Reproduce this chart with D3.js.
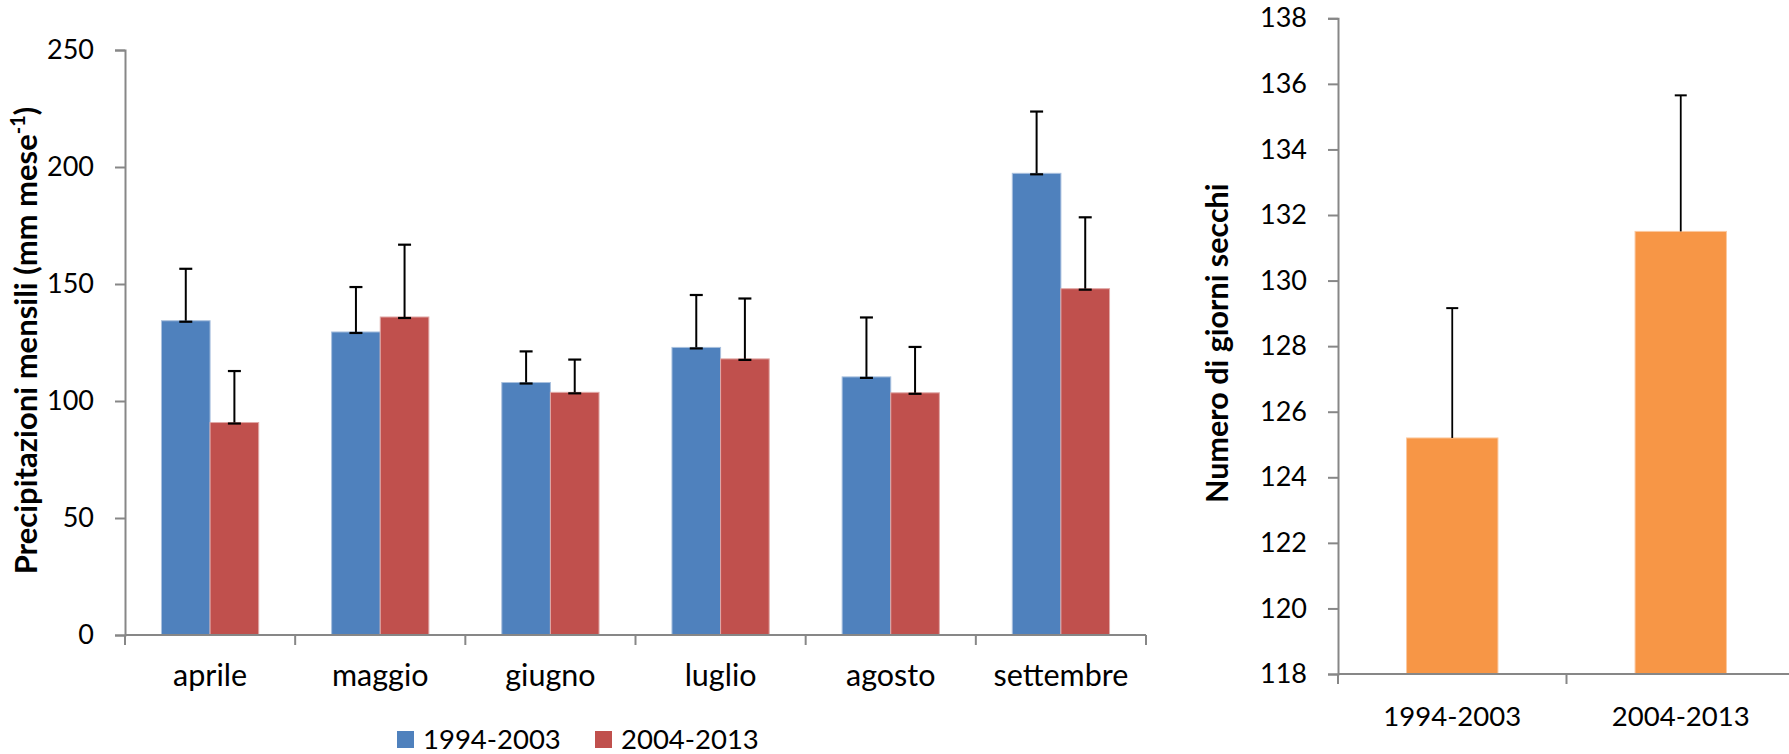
<!DOCTYPE html>
<html>
<head>
<meta charset="utf-8">
<script src="https://cdn.jsdelivr.net/npm/d3@7/dist/d3.min.js"></script>
<style>
  html, body { margin: 0; padding: 0; background: #fff; }
  svg { display: block; }
  text { font-family: "Lato", "Open Sans", sans-serif; fill: #000; }
</style>
</head>
<body>
<svg id="chart" width="1789" height="754"></svg>
<script>
// Monthly precipitation (mm month^-1), mean and standard deviation per period
const months = ["aprile", "maggio", "giugno", "luglio", "agosto", "settembre"];
const periods = ["1994-2003", "2004-2013"];
const rain1994 = [134.3, 129.5, 107.9, 122.9, 110.3, 197.3];
const rainErr1994 = [22.2, 19.2, 13.3, 22.4, 25.4, 26.4];
const rain2004 = [90.8, 135.9, 103.7, 118.0, 103.5, 148.0];
const rainErr2004 = [22.0, 30.9, 14.0, 25.8, 19.6, 30.5];
const rainTicks = [0, 50, 100, 150, 200, 250];

// Number of dry days per period
const dryDays = [125.2, 131.5];
const dryDaysErr = [3.96, 4.15];
const dryTicks = [118, 120, 122, 124, 126, 128, 130, 132, 134, 136, 138];

const seriesColors = ["#4F81BD", "#C0504D"];
const seriesStroke = ["#a9c0de", "#e0a8a6"];
const dryColor = "#F79646";
const axisColor = "#878787";

const svg = d3.select("#chart");

// ---------- Left panel: grouped bars ----------
const L = { x0: 125, x1: 1146, y0: 635, y1: 50 };
const x = d3.scaleBand().domain(months).range([L.x0, L.x1]).padding(0);
const xs = d3.scaleBand().domain(periods).range([0, x.bandwidth()])
  .paddingInner(0).paddingOuter(0.75);
const y = d3.scaleLinear().domain([0, 250]).range([L.y0, L.y1]);

const rows = months.map((m, i) => ({
  month: m,
  values: [
    { period: periods[0], v: rain1994[i], e: rainErr1994[i], k: 0 },
    { period: periods[1], v: rain2004[i], e: rainErr2004[i], k: 1 }
  ]
}));

const gL = svg.append("g");

const groups = gL.selectAll("g.month").data(rows).join("g")
  .attr("class", "month")
  .attr("transform", d => `translate(${x(d.month)},0)`);

groups.selectAll("rect").data(d => d.values).join("rect")
  .attr("x", d => xs(d.period))
  .attr("y", d => y(d.v))
  .attr("width", xs.bandwidth())
  .attr("height", d => y(0) - y(d.v))
  .attr("fill", d => seriesColors[d.k])
  .attr("stroke", d => seriesStroke[d.k])
  .attr("stroke-width", 1);

// error bars (upper side, capped at both ends)
const eb = groups.selectAll("g.err").data(d => d.values).join("g").attr("class", "err");
const capW = 6.5;
eb.append("line")
  .attr("x1", d => xs(d.period) + xs.bandwidth() / 2)
  .attr("x2", d => xs(d.period) + xs.bandwidth() / 2)
  .attr("y1", d => y(d.v))
  .attr("y2", d => y(d.v + d.e))
  .attr("stroke", "#000").attr("stroke-width", 2);
eb.append("line")
  .attr("x1", d => xs(d.period) + xs.bandwidth() / 2 - capW)
  .attr("x2", d => xs(d.period) + xs.bandwidth() / 2 + capW)
  .attr("y1", d => y(d.v + d.e))
  .attr("y2", d => y(d.v + d.e))
  .attr("stroke", "#000").attr("stroke-width", 2.2);
eb.append("line")
  .attr("x1", d => xs(d.period) + xs.bandwidth() / 2 - capW)
  .attr("x2", d => xs(d.period) + xs.bandwidth() / 2 + capW)
  .attr("y1", d => y(d.v) + 1)
  .attr("y2", d => y(d.v) + 1)
  .attr("stroke", "#000").attr("stroke-width", 2.2);

// y axis
const yAxisL = d3.axisLeft(y).tickValues(rainTicks).tickSize(10).tickPadding(21);
const gyL = gL.append("g").attr("transform", `translate(${L.x0},0)`).call(yAxisL);
gyL.select(".domain").attr("stroke", axisColor).attr("stroke-width", 2);
gyL.selectAll(".tick line").attr("stroke", axisColor).attr("stroke-width", 2);
gyL.selectAll(".tick text").attr("font-size", 27).attr("font-family", "Lato, sans-serif").attr("fill", "#000");

// x axis: category ticks sit on band edges, labels at band centres
const gxL = gL.append("g").attr("transform", `translate(0,${L.y0})`);
gxL.append("line").attr("x1", L.x0).attr("x2", L.x1).attr("y1", 0).attr("y2", 0)
  .attr("stroke", axisColor).attr("stroke-width", 2);
gxL.selectAll("line.tk").data(months.map(m => x(m)).concat([x.range()[1]])).join("line")
  .attr("class", "tk")
  .attr("x1", d => d).attr("x2", d => d).attr("y1", 0).attr("y2", 10)
  .attr("stroke", axisColor).attr("stroke-width", 2);
gxL.selectAll("text").data(months).join("text")
  .attr("x", d => x(d) + x.bandwidth() / 2)
  .attr("y", 51)
  .attr("text-anchor", "middle")
  .attr("font-size", 30.5)
  .text(d => d);

// y title
const tL = gL.append("text")
  .attr("transform", `translate(37,${(L.y0 + L.y1) / 2 - 2}) rotate(-90)`)
  .attr("text-anchor", "middle")
  .attr("font-size", 31)
  .attr("font-weight", "bold");
tL.append("tspan").text("Precipitazioni mensili (mm mese");
tL.append("tspan").attr("font-size", 20).attr("dy", -12).text("-1");
tL.append("tspan").attr("dy", 12).text(")");

// legend
const leg = gL.append("g");
const legX = [397, 595];
periods.forEach((p, i) => {
  leg.append("rect").attr("x", legX[i]).attr("y", 731).attr("width", 17).attr("height", 17)
    .attr("fill", seriesColors[i]);
  leg.append("text").attr("x", legX[i] + 26).attr("y", 749)
    .attr("font-size", 27.5).text(p);
});

// ---------- Right panel: dry days ----------
const R = { x0: 1338, x1: 1795, y0: 674, y1: 18.3 };
const xr = d3.scaleBand().domain(periods).range([R.x0, R.x1]).paddingInner(0.6).paddingOuter(0.3);
const xrStep = xr.step();
const yr = d3.scaleLinear().domain([118, 138]).range([R.y0, R.y1]);
const gR = svg.append("g");

const dryRows = periods.map((p, i) => ({ period: p, v: dryDays[i], e: dryDaysErr[i] }));

gR.selectAll("rect.dry").data(dryRows).join("rect")
  .attr("class", "dry")
  .attr("x", d => xr(d.period))
  .attr("y", d => yr(d.v))
  .attr("width", xr.bandwidth())
  .attr("height", d => yr(118) - yr(d.v))
  .attr("fill", dryColor)
  .attr("stroke", "#fbc9a0").attr("stroke-width", 1);

const ebr = gR.selectAll("g.err").data(dryRows).join("g").attr("class", "err");
ebr.append("line")
  .attr("x1", d => xr(d.period) + xr.bandwidth() / 2)
  .attr("x2", d => xr(d.period) + xr.bandwidth() / 2)
  .attr("y1", d => yr(d.v))
  .attr("y2", d => yr(d.v + d.e))
  .attr("stroke", "#000").attr("stroke-width", 1.8);
ebr.append("line")
  .attr("x1", d => xr(d.period) + xr.bandwidth() / 2 - 6)
  .attr("x2", d => xr(d.period) + xr.bandwidth() / 2 + 6)
  .attr("y1", d => yr(d.v + d.e))
  .attr("y2", d => yr(d.v + d.e))
  .attr("stroke", "#000").attr("stroke-width", 2);

const yAxisR = d3.axisLeft(yr).tickValues(dryTicks).tickSize(10).tickPadding(21);
const gyR = gR.append("g").attr("transform", `translate(${R.x0},0)`).call(yAxisR);
gyR.select(".domain").attr("stroke", axisColor).attr("stroke-width", 2);
gyR.selectAll(".tick line").attr("stroke", axisColor).attr("stroke-width", 2);
gyR.selectAll(".tick text").attr("font-size", 27).attr("font-family", "Lato, sans-serif").attr("fill", "#000");

const gxR = gR.append("g").attr("transform", `translate(0,${R.y0})`);
gxR.append("line").attr("x1", R.x0).attr("x2", R.x1).attr("y1", 0).attr("y2", 0)
  .attr("stroke", axisColor).attr("stroke-width", 2);
gxR.selectAll("line.tk").data(periods.map(p => xr(p) - xr.paddingOuter() * xrStep).concat([R.x1])).join("line")
  .attr("class", "tk")
  .attr("x1", d => d).attr("x2", d => d).attr("y1", 0).attr("y2", 10)
  .attr("stroke", axisColor).attr("stroke-width", 2);
gxR.selectAll("text").data(periods).join("text")
  .attr("x", d => xr(d) + xr.bandwidth() / 2)
  .attr("y", 52)
  .attr("text-anchor", "middle")
  .attr("font-size", 27.5)
  .text(d => d);

gR.append("text")
  .attr("transform", `translate(1228,${(R.y0 + R.y1) / 2 - 3}) rotate(-90)`)
  .attr("text-anchor", "middle")
  .attr("font-size", 30.5)
  .attr("font-weight", "bold")
  .text("Numero di giorni secchi");
</script>
</body>
</html>
